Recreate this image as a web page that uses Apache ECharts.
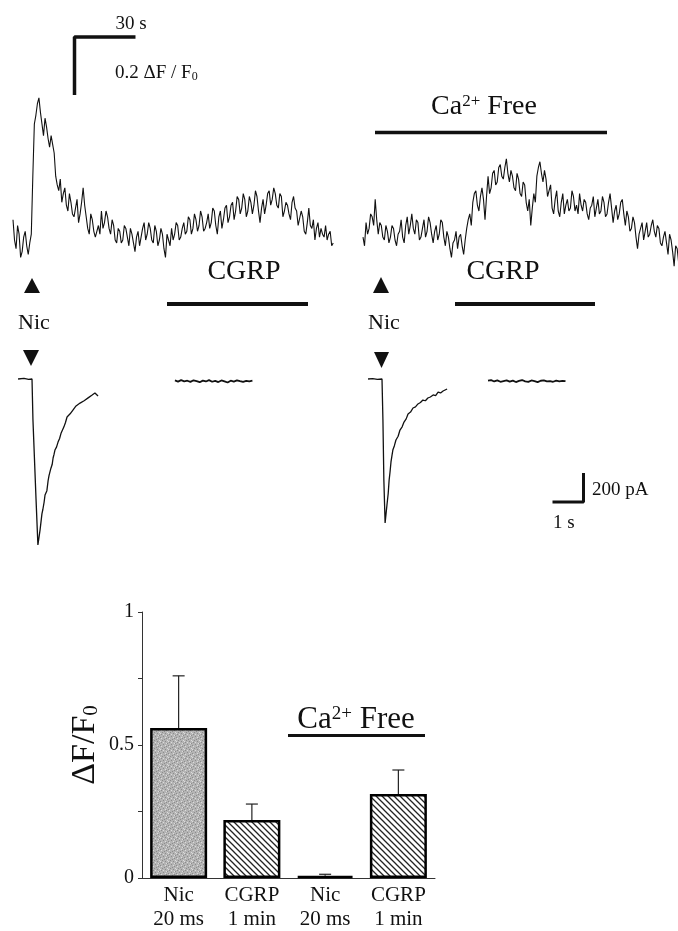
<!DOCTYPE html>
<html>
<head>
<meta charset="utf-8">
<script src="https://cdn.jsdelivr.net/npm/echarts@6/dist/echarts.min.js"></script>
<style>
  html, body { margin: 0; padding: 0; background: #fff; }
  #chart { width: 678px; height: 931px; }
</style>
</head>
<body>
<div id="chart"></div>
<script>
// fluorescence traces, dF/F0, one sample every 0.75 s
const fluoDt = 0.75;
const fluoControl = [
  0.07,0.00,-0.03,0.05,0.02,-0.06,-0.04,0.01,0.03,-0.02,-0.05,-0.01,0.02,0.22,0.40,0.43,0.47,0.49,0.44,0.40,
  0.36,0.42,0.39,0.35,0.32,0.36,0.33,0.30,0.22,0.19,0.17,0.21,0.13,0.16,0.18,0.12,0.10,0.16,0.13,0.09,
  0.08,0.11,0.14,0.06,0.09,0.13,0.18,0.12,0.08,0.04,0.02,0.09,0.07,0.03,0.01,0.03,0.05,0.02,0.10,0.04,
  0.06,0.10,0.08,0.04,0.02,0.07,0.05,0.00,-0.01,0.04,0.03,-0.01,0.00,0.05,0.04,0.01,-0.02,0.04,0.02,-0.01,
  -0.04,0.01,0.03,-0.02,0.01,0.04,0.06,0.00,0.02,0.06,0.04,0.00,-0.01,0.05,0.03,-0.02,0.00,0.04,0.02,-0.03,
  -0.06,0.02,0.00,-0.02,0.04,0.00,0.02,0.06,0.05,0.00,0.01,0.04,0.06,0.02,0.03,0.08,0.07,0.02,0.04,0.09,
  0.07,0.03,0.05,0.10,0.08,0.03,0.04,0.06,0.09,0.04,0.06,0.11,0.10,0.05,0.02,0.08,0.10,0.04,0.07,0.11,
  0.12,0.06,0.08,0.12,0.13,0.07,0.10,0.15,0.14,0.09,0.11,0.16,0.14,0.08,0.10,0.15,0.13,0.09,0.12,0.17,
  0.15,0.10,0.06,0.11,0.14,0.09,0.12,0.16,0.17,0.12,0.14,0.18,0.16,0.12,0.11,0.16,0.15,0.08,0.10,0.13,
  0.12,0.09,0.07,0.13,0.15,0.11,0.10,0.05,0.05,0.10,0.08,0.03,0.02,0.06,0.11,0.05,0.04,0.07,0.00,0.04,
  0.06,0.01,0.04,0.02,0.01,0.05,0.00,0.02,0.03,-0.02,-0.01];
const fluoCaFree = [
  0.01,-0.02,0.06,0.02,0.04,0.09,0.08,0.05,0.14,0.07,0.02,0.06,0.05,0.01,0.00,0.05,0.03,-0.01,0.01,0.05,
  0.04,0.00,-0.02,0.02,0.03,0.07,0.01,-0.01,0.05,0.08,0.02,0.05,0.09,0.04,0.02,0.07,0.06,0.00,0.01,0.04,
  0.07,0.01,0.03,0.08,0.06,0.02,-0.01,0.03,0.05,0.00,0.02,0.07,0.06,0.01,-0.02,0.03,0.01,-0.03,-0.06,-0.01,
  0.00,0.03,-0.03,0.01,0.02,-0.02,-0.05,0.00,0.04,0.07,0.09,0.05,0.13,0.16,0.17,0.12,0.10,0.15,0.18,0.14,
  0.07,0.15,0.22,0.16,0.18,0.23,0.24,0.19,0.20,0.25,0.26,0.22,0.21,0.25,0.28,0.23,0.20,0.24,0.22,0.18,
  0.17,0.23,0.21,0.16,0.15,0.20,0.19,0.13,0.10,0.14,0.05,0.11,0.16,0.13,0.22,0.25,0.27,0.23,0.20,0.24,
  0.21,0.15,0.17,0.19,0.11,0.09,0.14,0.17,0.10,0.08,0.13,0.16,0.09,0.12,0.14,0.10,0.11,0.17,0.15,0.10,
  0.12,0.09,0.16,0.12,0.10,0.14,0.13,0.09,0.07,0.11,0.12,0.15,0.08,0.11,0.14,0.09,0.10,0.15,0.13,0.08,
  0.09,0.13,0.16,0.11,0.06,0.10,0.12,0.07,0.09,0.13,0.14,0.09,0.05,0.10,0.08,0.03,0.04,0.08,0.06,0.01,
  -0.03,0.02,0.04,0.06,0.00,0.03,0.06,0.01,0.02,0.05,0.07,0.03,0.01,0.05,0.04,-0.01,-0.02,0.01,0.03,-0.01,
  -0.05,0.02,0.00,-0.04,-0.09,-0.02,-0.03,-0.08,-0.07,0.00,-0.02];

// membrane currents, [time s, current pA]
const nicControl = [[0.26,0],[0.45,4],[0.6,-3],[0.71,0],[0.74,-280],[0.84,-830],[0.90,-1145],[0.97,-1040],[1.03,-930],[1.06,-900],
  [1.10,-850],[1.13,-800],[1.19,-770],[1.23,-700],[1.26,-665],[1.32,-615],[1.36,-590],[1.39,-545],[1.42,-520],[1.45,-490],
  [1.50,-470],[1.55,-435],[1.60,-410],[1.65,-372],[1.70,-360],[1.74,-330],[1.79,-300],[1.84,-262],[1.89,-265],[1.94,-240],
  [1.98,-245],[2.03,-214],[2.08,-220],[2.13,-186],[2.18,-195],[2.26,-166],[2.32,-172],[2.39,-150],[2.45,-158],[2.52,-130],
  [2.58,-138],[2.65,-110],[2.70,-118],[2.74,-96],[2.80,-108],[2.84,-117]];
const nicCaFree = [[11.55,0],[11.7,3],[11.85,-2],[12.0,0],[12.03,-283],[12.06,-697],[12.10,-993],[12.13,-930],[12.16,-869],[12.20,-790],
  [12.23,-697],[12.26,-640],[12.29,-572],[12.32,-530],[12.35,-490],[12.40,-460],[12.45,-421],[12.52,-395],[12.58,-352],[12.65,-330],
  [12.71,-297],[12.78,-275],[12.84,-241],[12.92,-228],[13.0,-200],[13.08,-192],[13.16,-172],[13.24,-162],[13.32,-145],[13.40,-150],
  [13.48,-131],[13.56,-124],[13.65,-110],[13.73,-115],[13.81,-90],[13.89,-96],[13.97,-83],[14.03,-88],[14.1,-69]];
// CGRP applications, one sample every 0.1 s
const cgrpDt = 0.1;
const cgrpControlStart = 5.32;
const cgrpControl = [-10,-18,-8,-16,-12,-20,-9,-15,-22,-11,-17,-8,-19,-13,-21,-10,-16,-24,-12,-18,-9,-15,-20,-13,-17,-11];
const cgrpCaFreeStart = 15.42;
const cgrpCaFree = [-12,-8,-17,-10,-19,-14,-9,-18,-11,-21,-13,-7,-16,-20,-10,-15,-22,-12,-9,-17,-14,-19,-11,-16,-13,-15];

// summary bars
const barCategories = ['Nic\n20 ms', 'CGRP\n1 min', 'Nic\n20 ms', 'CGRP\n1 min'];
const barMeans = [0.564, 0.218, 0.008, 0.316];
const barSem = [0.196, 0.06, 0.006, 0.09];
const barTicks = ['0', '0.5', '1'];

const serif = 'Liberation Serif, Times New Roman, serif';
const ink = '#111';

function samples(vals, start, dt) {
  return vals.map((v, i) => [start + i * dt, v]);
}

// textures for the bars
function hatch() {
  const c = document.createElement('canvas');
  c.width = c.height = 6;
  const g = c.getContext('2d');
  g.fillStyle = '#fff';
  g.fillRect(0, 0, 6, 6);
  g.strokeStyle = '#222';
  g.lineWidth = 1.3;
  g.beginPath();
  g.moveTo(-1, -1); g.lineTo(7, 7);
  g.moveTo(-1, 5); g.lineTo(1, 7);
  g.moveTo(5, -1); g.lineTo(7, 1);
  g.stroke();
  return c;
}
function stipple() {
  const c = document.createElement('canvas');
  c.width = c.height = 8;
  const g = c.getContext('2d');
  g.fillStyle = '#b4b4b4';
  g.fillRect(0, 0, 8, 8);
  const dark = [[0,1],[3,0],[6,2],[2,4],[5,5],[7,7],[1,6],[4,3]];
  const light = [[1,2],[5,1],[3,6],[7,4],[0,5],[6,7]];
  g.fillStyle = '#8c8c8c';
  dark.forEach(p => g.fillRect(p[0], p[1], 1, 1));
  g.fillStyle = '#dcdcdc';
  light.forEach(p => g.fillRect(p[0], p[1], 1, 1));
  return c;
}
const hatchFill = { image: hatch(), repeat: 'repeat' };
const stippleFill = { image: stipple(), repeat: 'repeat' };

const hidden = { show: false };
const trace = (w) => ({ color: ink, width: w });

const chart = echarts.init(document.getElementById('chart'));

const txt = (x, y, text, size, align, rich) => ({
  type: 'text', x: x, y: y,
  style: {
    text: text, font: size + 'px ' + serif, fill: ink,
    align: align || 'center', verticalAlign: 'middle', rich: rich
  }
});
const bar = (x1, x2, y, w) => ({
  type: 'line', shape: { x1: x1, y1: y, x2: x2, y2: y },
  style: { stroke: ink, lineWidth: w }
});
const tri = (pts) => ({ type: 'polygon', shape: { points: pts }, style: { fill: ink } });

const supRich = (base) => ({
  sup: { fontSize: Math.round(base * 0.62), fontFamily: serif, fill: ink, verticalAlign: 'top', lineHeight: base },
  sub: { fontSize: Math.round(base * 0.62), fontFamily: serif, fill: ink, verticalAlign: 'bottom', lineHeight: base }
});

chart.setOption({
  animation: false,
  backgroundColor: '#fff',
  grid: [
    { left: 13, top: 8, width: 325.3, height: 261, outerBoundsMode: 'none' },
    { left: 363, top: 8, width: 315.2, height: 261, outerBoundsMode: 'none' },
    { left: 10, top: 364.5, width: 668, height: 203, outerBoundsMode: 'none' },
    { left: 142, top: 612, width: 293, height: 266, outerBoundsMode: 'none' }
  ],
  xAxis: [
    { gridIndex: 0, type: 'value', min: 0, max: 160, show: false },
    { gridIndex: 1, type: 'value', min: 0, max: 155, show: false },
    { gridIndex: 2, type: 'value', min: 0, max: 668 / 31, show: false },
    {
      gridIndex: 3, type: 'category', data: barCategories,
      axisLine: { lineStyle: { color: '#333', width: 1 } },
      axisTick: hidden,
      axisLabel: { color: ink, fontFamily: serif, fontSize: 21, lineHeight: 24, margin: 5 }
    }
  ],
  yAxis: [
    { gridIndex: 0, type: 'value', min: -0.1, max: 0.8, show: false },
    { gridIndex: 1, type: 'value', min: -0.1, max: 0.8, show: false },
    { gridIndex: 2, type: 'value', min: -1300, max: 100, show: false },
    {
      gridIndex: 3, type: 'value', min: 0, max: 1, interval: 0.25,
      splitLine: hidden,
      axisLine: { show: true, lineStyle: { color: '#333', width: 1 } },
      axisTick: { show: true, inside: false, length: 4, lineStyle: { color: '#333' } },
      axisLabel: {
        color: ink, fontFamily: serif, fontSize: 20, margin: 8,
        formatter: v => (v === 0 ? barTicks[0] : v === 0.5 ? barTicks[1] : v === 1 ? barTicks[2] : '')
      },
      name: 'ΔF/F{sub|0}', nameLocation: 'middle', nameRotate: 90, nameGap: 40,
      nameTextStyle: {
        color: ink, fontFamily: serif, fontSize: 34,
        rich: { sub: { fontSize: 21, fontFamily: serif, color: ink, verticalAlign: 'bottom', lineHeight: 34 } }
      }
    }
  ],
  series: [
    {
      type: 'line', xAxisIndex: 0, yAxisIndex: 0, data: samples(fluoControl, 0, fluoDt),
      showSymbol: false, lineStyle: trace(1.1), clip: true
    },
    { // 30 s / 0.2 dF/F0 scale bar
      type: 'line', xAxisIndex: 0, yAxisIndex: 0, data: [[30.25, 0.5], [30.25, 0.7], [60.25, 0.7]],
      showSymbol: false, lineStyle: trace(3.5)
    },
    {
      type: 'line', xAxisIndex: 1, yAxisIndex: 1, data: samples(fluoCaFree, 0, fluoDt),
      showSymbol: false, lineStyle: trace(1.1), clip: true
    },
    { type: 'line', xAxisIndex: 2, yAxisIndex: 2, data: nicControl, showSymbol: false, lineStyle: trace(1.3) },
    { type: 'line', xAxisIndex: 2, yAxisIndex: 2, data: samples(cgrpControl, cgrpControlStart, cgrpDt), showSymbol: false, lineStyle: trace(1.8) },
    { type: 'line', xAxisIndex: 2, yAxisIndex: 2, data: nicCaFree, showSymbol: false, lineStyle: trace(1.3) },
    { type: 'line', xAxisIndex: 2, yAxisIndex: 2, data: samples(cgrpCaFree, cgrpCaFreeStart, cgrpDt), showSymbol: false, lineStyle: trace(1.8) },
    { // 1 s / 200 pA scale bar
      type: 'line', xAxisIndex: 2, yAxisIndex: 2, data: [[17.5, -848], [18.5, -848], [18.5, -648]],
      showSymbol: false, lineStyle: trace(3)
    },
    {
      type: 'bar', xAxisIndex: 3, yAxisIndex: 3, barWidth: 57,
      data: barMeans.map((v, i) => ({
        value: v,
        itemStyle: { color: i === 0 ? stippleFill : hatchFill, borderColor: '#000', borderWidth: 2.5 }
      }))
    },
    {
      type: 'custom', xAxisIndex: 3, yAxisIndex: 3, z: 1,
      data: barMeans.map((v, i) => [i, v, v + barSem[i]]),
      renderItem: (params, api) => {
        const lo = api.coord([api.value(0), api.value(1)]);
        const hi = api.coord([api.value(0), api.value(2)]);
        const st = { stroke: '#222', lineWidth: 1.2 };
        return {
          type: 'group', children: [
            { type: 'line', shape: { x1: lo[0], y1: lo[1], x2: hi[0], y2: hi[1] }, style: st },
            { type: 'line', shape: { x1: hi[0] - 6, y1: hi[1], x2: hi[0] + 6, y2: hi[1] }, style: st }
          ]
        };
      }
    }
  ],
  graphic: [
    txt(131, 24, '30 s', 19),
    txt(115, 73, '0.2 ΔF / F{sub|0}', 19, 'left', supRich(19)),
    txt(484, 107, 'Ca{sup|2+} Free', 28, 'center', supRich(28)),
    bar(375, 607, 132.5, 3.5),
    txt(244, 272, 'CGRP', 28),
    txt(503, 272, 'CGRP', 28),
    bar(167, 308, 304, 4),
    bar(455, 595, 304, 4),
    tri([[24, 293], [40, 293], [32, 278]]),
    tri([[23, 350], [39, 350], [31, 366]]),
    txt(34, 323, 'Nic', 22),
    tri([[373, 293], [389, 293], [381, 277]]),
    tri([[374, 352], [389, 352], [381.5, 368]]),
    txt(384, 323, 'Nic', 22),
    txt(592, 490, '200 pA', 19, 'left'),
    txt(553, 523, '1 s', 19, 'left'),
    txt(356, 720, 'Ca{sup|2+} Free', 31, 'center', supRich(31)),
    bar(288, 425, 735.5, 3)
  ]
});
</script>
</body>
</html>
